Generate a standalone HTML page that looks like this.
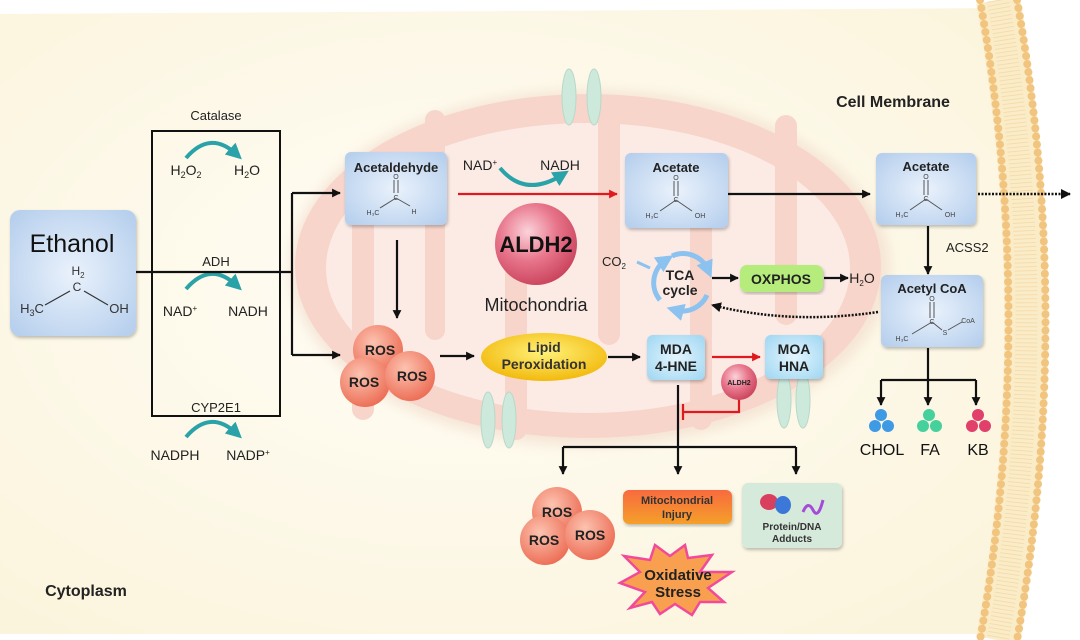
<!DOCTYPE html>
<html><head><meta charset="utf-8"><style>
html,body{margin:0;padding:0;background:#fff;}
svg{display:block;font-family:"Liberation Sans",sans-serif;}
</style></head><body>
<svg width="1080" height="640" viewBox="0 0 1080 640" xmlns="http://www.w3.org/2000/svg">
<defs>
<radialGradient id="bg" cx="0.45" cy="0.45" r="0.7"><stop offset="0" stop-color="#fffdf6"/><stop offset="1" stop-color="#fbf4dc"/></radialGradient>
<radialGradient id="blue" cx="0.5" cy="0.5" r="0.7"><stop offset="0" stop-color="#eaf2fc"/><stop offset="1" stop-color="#b3cdec"/></radialGradient>
<radialGradient id="cyan" cx="0.5" cy="0.5" r="0.7"><stop offset="0" stop-color="#e3f5fd"/><stop offset="1" stop-color="#9fd6f2"/></radialGradient>
<radialGradient id="red" cx="0.4" cy="0.35" r="0.7"><stop offset="0" stop-color="#fbd3da"/><stop offset="0.5" stop-color="#e8768c"/><stop offset="1" stop-color="#c8405a"/></radialGradient>
<radialGradient id="ros" cx="0.4" cy="0.35" r="0.7"><stop offset="0" stop-color="#fcc3b0"/><stop offset="1" stop-color="#ec6a52"/></radialGradient>
<radialGradient id="yel" cx="0.5" cy="0.4" r="0.6"><stop offset="0" stop-color="#fff27a"/><stop offset="1" stop-color="#f2b90c"/></radialGradient>
<linearGradient id="org" x1="0" y1="0" x2="0" y2="1"><stop offset="0" stop-color="#f86a3e"/><stop offset="1" stop-color="#f5a02a"/></linearGradient>
<marker id="ah" viewBox="0 0 10 10" refX="9" refY="5" markerWidth="4" markerHeight="4" orient="auto"><path d="M0,0L10,5L0,10z" fill="#111"/></marker>
<marker id="ahr" viewBox="0 0 10 10" refX="9" refY="5" markerWidth="4" markerHeight="4" orient="auto"><path d="M0,0L10,5L0,10z" fill="#e0191e"/></marker>
<marker id="aht" viewBox="0 0 10 10" refX="5" refY="5" markerWidth="4" markerHeight="4" orient="auto"><path d="M0,0L10,5L0,10z" fill="#2aa3a8"/></marker>
<marker id="ahb" viewBox="0 0 10 10" refX="5" refY="5" markerWidth="3.5" markerHeight="3.5" orient="auto"><path d="M0,0L10,5L0,10z" fill="#8cc2f0"/></marker>
<filter id="sh"><feDropShadow dx="1" dy="2" stdDeviation="1.5" flood-opacity="0.25"/></filter>
<filter id="blur"><feGaussianBlur stdDeviation="6"/></filter>
</defs>
<rect width="1080" height="640" fill="#fff"/>
<path d="M0,14 L1010,8 Q1050,320 1010,634 L0,634 Z" fill="url(#bg)"/>
<!-- membrane -->
<path d="M998,0 Q1055,320 998,640" fill="none" stroke="#fbecc8" stroke-width="44"/>
<path d="M998,0 Q1055,320 998,640" fill="none" stroke="#f4dcae" stroke-width="22" stroke-dasharray="1 3"/>
<path d="M980,0 Q1037,320 980,640" fill="none" stroke="#f1c57f" stroke-width="8" stroke-linecap="round" stroke-dasharray="0.1 8"/>
<path d="M1017,0 Q1074,320 1017,640" fill="none" stroke="#f1c57f" stroke-width="8" stroke-linecap="round" stroke-dasharray="0.1 8"/>
<!-- mitochondria -->
<ellipse cx="590" cy="268" rx="300" ry="178" fill="#f0d8c8" filter="url(#blur)" opacity="0.6"/>
<ellipse cx="588" cy="266" rx="293" ry="172" fill="#f8d5ca"/>
<ellipse cx="588" cy="268" rx="262" ry="145" fill="#fcebe5"/>
<g fill="#f8d5ca">
<rect x="352" y="200" width="22" height="220" rx="11"/>
<rect x="425" y="110" width="20" height="230" rx="10"/>
<rect x="505" y="220" width="22" height="220" rx="11"/>
<rect x="598" y="110" width="22" height="235" rx="11"/>
<rect x="690" y="200" width="22" height="230" rx="11"/>
<rect x="775" y="115" width="22" height="210" rx="11"/>
</g>
<!-- channels -->
<g fill="#cde9dc" stroke="#b8d8c8" stroke-width="1">
<ellipse cx="569" cy="97" rx="7" ry="28"/><ellipse cx="594" cy="97" rx="7" ry="28"/>
<ellipse cx="488" cy="420" rx="7" ry="28"/><ellipse cx="509" cy="420" rx="7" ry="28"/>
<ellipse cx="784" cy="400" rx="7" ry="28"/><ellipse cx="803" cy="400" rx="7" ry="28"/>
</g>
<!-- Ethanol -->
<rect x="10" y="210" width="126" height="126" rx="10" fill="url(#blue)" filter="url(#sh)"/>
<text x="72" y="252" font-size="25" text-anchor="middle" fill="#111">Ethanol</text>
<text x="78" y="275" font-size="12" text-anchor="middle" fill="#333">H<tspan font-size="8" dy="3">2</tspan></text>
<text x="77" y="291" font-size="12" text-anchor="middle" fill="#333">C</text>
<text x="32" y="313" font-size="13" text-anchor="middle" fill="#333">H<tspan font-size="9" dy="3">3</tspan><tspan dy="-3">C</tspan></text>
<text x="119" y="313" font-size="13" text-anchor="middle" fill="#333">OH</text>
<path d="M45,305 L70,291 M84,291 L108,305" stroke="#333" stroke-width="1.2" fill="none"/>
<!-- enzyme box -->
<rect x="152" y="131" width="128" height="285" fill="none" stroke="#111" stroke-width="2"/>
<text x="216" y="120" font-size="13" text-anchor="middle" fill="#222">Catalase</text>
<text x="216" y="266" font-size="13" text-anchor="middle" fill="#222">ADH</text>
<text x="216" y="412" font-size="13" text-anchor="middle" fill="#222">CYP2E1</text>
<g fill="none" stroke="#2aa3a8" stroke-width="4" marker-end="url(#aht)">
<path d="M186,158 Q210,130 236,154"/>
<path d="M186,289 Q210,261 236,285"/>
<path d="M186,437 Q210,409 236,433"/>
</g>
<g font-size="14" fill="#222" text-anchor="middle">
<text x="186" y="175">H<tspan font-size="9" dy="3">2</tspan><tspan dy="-3">O</tspan><tspan font-size="9" dy="3">2</tspan></text>
<text x="247" y="175">H<tspan font-size="9" dy="3">2</tspan><tspan dy="-3">O</tspan></text>
<text x="180" y="316">NAD<tspan font-size="8" dy="-5">+</tspan></text>
<text x="248" y="316">NADH</text>
<text x="175" y="460">NADPH</text>
<text x="248" y="460">NADP<tspan font-size="8" dy="-5">+</tspan></text>
</g>
<g stroke="#111" stroke-width="2.2" fill="none">
<path d="M136,272 L292,272"/>
<path d="M292,193 L292,355"/>
<path d="M292,193 L340,193" marker-end="url(#ah)"/>
<path d="M292,355 L340,355" marker-end="url(#ah)"/>
<path d="M397,240 L397,318" marker-end="url(#ah)"/>
<path d="M728,194 L870,194" marker-end="url(#ah)"/>
<path d="M440,356 L474,356" marker-end="url(#ah)"/>
<path d="M608,357 L640,357" marker-end="url(#ah)"/>
<path d="M928,226 L928,274" marker-end="url(#ah)"/>
<path d="M928,348 L928,380 M881,380 L976,380"/>
<path d="M881,380 L881,405" marker-end="url(#ah)"/>
<path d="M928,380 L928,405" marker-end="url(#ah)"/>
<path d="M976,380 L976,405" marker-end="url(#ah)"/>
<path d="M712,278 L738,278" marker-end="url(#ah)"/>
<path d="M824,278 L848,278" marker-end="url(#ah)"/>
<path d="M678,385 L678,447 M563,447 L796,447"/>
<path d="M563,447 L563,474" marker-end="url(#ah)"/>
<path d="M678,447 L678,474" marker-end="url(#ah)"/>
<path d="M796,447 L796,474" marker-end="url(#ah)"/>
</g>
<path d="M978,194 L1070,194" stroke="#111" stroke-width="2.5" stroke-dasharray="2 1.5" marker-end="url(#ah)"/>
<path d="M878,312 Q790,325 712,305" stroke="#111" stroke-width="2.5" stroke-dasharray="2 1.5" fill="none" marker-end="url(#ah)"/>
<!-- red -->
<path d="M458,194 L617,194" stroke="#e0191e" stroke-width="2.2" marker-end="url(#ahr)"/>
<path d="M712,357 L760,357" stroke="#e0191e" stroke-width="2.2" marker-end="url(#ahr)"/>
<path d="M739,399 L739,412 L683,412 M683,404 L683,420" stroke="#e0191e" stroke-width="2.2" fill="none"/>
<path d="M500,168 Q525,198 562,175" stroke="#2aa3a8" stroke-width="4" fill="none" marker-end="url(#aht)"/>
<text x="480" y="170" font-size="14" text-anchor="middle" fill="#222">NAD<tspan font-size="8" dy="-5">+</tspan></text>
<text x="560" y="170" font-size="14" text-anchor="middle" fill="#222">NADH</text>
<g filter="url(#sh)">
<rect x="345" y="152" width="102" height="73" rx="6" fill="url(#blue)"/>
<rect x="625" y="153" width="103" height="75" rx="6" fill="url(#blue)"/>
<rect x="876" y="153" width="100" height="72" rx="6" fill="url(#blue)"/>
<rect x="881" y="275" width="102" height="72" rx="6" fill="url(#blue)"/>
<rect x="647" y="335" width="58" height="45" rx="6" fill="url(#cyan)"/>
<rect x="765" y="335" width="58" height="44" rx="6" fill="url(#cyan)"/>
</g>
<g font-size="13" font-weight="bold" fill="#222" text-anchor="middle">
<text x="396" y="172">Acetaldehyde</text>
<text x="676" y="172">Acetate</text>
<text x="926" y="171">Acetate</text>
<text x="932" y="293">Acetyl CoA</text>
</g>
<g stroke="#555" stroke-width="1" fill="none">
<path d="M394,180 V193 M398,180 V193 M396,198 L380,208 M396,198 L410,206"/>
<path d="M674,181 V196 M678,181 V196 M676,200 L660,211 M676,200 L692,211"/>
<path d="M924,180 V195 M928,180 V195 M926,199 L910,210 M926,199 L942,210"/>
<path d="M930,302 V318 M934,302 V318 M932,322 L912,334 M932,322 L942,330 M948,330 L962,322"/>
</g>
<g font-size="7" fill="#444" text-anchor="middle">
<text x="396" y="179">O</text><text x="396" y="200">C</text><text x="373" y="215">H₃C</text><text x="414" y="214">H</text>
<text x="676" y="180">O</text><text x="676" y="202">C</text><text x="652" y="218">H₃C</text><text x="700" y="218">OH</text>
<text x="926" y="179">O</text><text x="926" y="201">C</text><text x="902" y="217">H₃C</text><text x="950" y="217">OH</text>
<text x="932" y="301">O</text><text x="932" y="324">C</text><text x="902" y="341">H₃C</text><text x="945" y="335">S</text><text x="968" y="323">CoA</text>
</g>
<circle cx="536" cy="244" r="41" fill="url(#red)"/>
<text x="536" y="252" font-size="22" font-weight="bold" text-anchor="middle" fill="#111">ALDH2</text>
<text x="536" y="311" font-size="18" text-anchor="middle" fill="#222">Mitochondria</text>
<g fill="none" stroke="#8cc2f0" stroke-width="5" marker-end="url(#ahb)">
<path d="M660,300 A27,27 0 0 1 666,260"/>
<path d="M672,256 A27,27 0 0 1 708,270"/>
<path d="M707,295 A27,27 0 0 1 675,310"/>
</g>
<path d="M650,268 L637,262" stroke="#8cc2f0" stroke-width="3"/>
<text x="680" y="280" font-size="14" font-weight="bold" text-anchor="middle" fill="#222">TCA</text>
<text x="680" y="295" font-size="14" font-weight="bold" text-anchor="middle" fill="#222">cycle</text>
<text x="614" y="266" font-size="13" text-anchor="middle" fill="#222">CO<tspan font-size="8" dy="3">2</tspan></text>
<rect x="740" y="265" width="83" height="27" rx="7" fill="#b5ec7c" filter="url(#sh)"/>
<text x="781" y="284" font-size="14" font-weight="bold" text-anchor="middle" fill="#222">OXPHOS</text>
<text x="862" y="283" font-size="14" text-anchor="middle" fill="#222">H<tspan font-size="8" dy="3">2</tspan><tspan dy="-3">O</tspan></text>
<text x="946" y="252" font-size="13" fill="#222">ACSS2</text>
<g font-size="14" font-weight="bold" text-anchor="middle" fill="#222">
<circle cx="378" cy="350" r="25" fill="url(#ros)"/>
<circle cx="365" cy="382" r="25" fill="url(#ros)"/>
<circle cx="410" cy="376" r="25" fill="url(#ros)"/>
<text x="380" y="355">ROS</text><text x="364" y="387">ROS</text><text x="412" y="381">ROS</text>
<circle cx="557" cy="512" r="25" fill="url(#ros)"/>
<circle cx="545" cy="540" r="25" fill="url(#ros)"/>
<circle cx="590" cy="535" r="25" fill="url(#ros)"/>
<text x="557" y="517">ROS</text><text x="544" y="545">ROS</text><text x="590" y="540">ROS</text>
</g>
<ellipse cx="544" cy="357" rx="63" ry="24" fill="url(#yel)"/>
<text x="544" y="352" font-size="14" font-weight="bold" text-anchor="middle" fill="#333">Lipid</text>
<text x="544" y="369" font-size="14" font-weight="bold" text-anchor="middle" fill="#333">Peroxidation</text>
<g font-size="14" font-weight="bold" text-anchor="middle" fill="#222">
<text x="676" y="354">MDA</text><text x="676" y="371">4-HNE</text>
<text x="794" y="354">MOA</text><text x="794" y="371">HNA</text>
</g>
<circle cx="739" cy="382" r="18" fill="url(#red)"/>
<text x="739" y="385" font-size="7" font-weight="bold" text-anchor="middle" fill="#222">ALDH2</text>
<g>
<circle cx="881" cy="415" r="6" fill="#3f9ae6"/><circle cx="875" cy="426" r="6" fill="#3f9ae6"/><circle cx="888" cy="426" r="6" fill="#3f9ae6"/>
<circle cx="929" cy="415" r="6" fill="#45d09c"/><circle cx="923" cy="426" r="6" fill="#45d09c"/><circle cx="936" cy="426" r="6" fill="#45d09c"/>
<circle cx="978" cy="415" r="6" fill="#e0406a"/><circle cx="972" cy="426" r="6" fill="#e0406a"/><circle cx="985" cy="426" r="6" fill="#e0406a"/>
</g>
<g font-size="16" text-anchor="middle" fill="#111">
<text x="882" y="455">CHOL</text><text x="930" y="455">FA</text><text x="978" y="455">KB</text>
</g>
<rect x="623" y="490" width="109" height="34" rx="6" fill="url(#org)" filter="url(#sh)"/>
<text x="677" y="504" font-size="11" font-weight="bold" text-anchor="middle" fill="#333">Mitochondrial</text>
<text x="677" y="518" font-size="11" font-weight="bold" text-anchor="middle" fill="#333">Injury</text>
<rect x="742" y="483" width="100" height="65" rx="6" fill="#d6eadc" filter="url(#sh)"/>
<ellipse cx="769" cy="502" rx="9" ry="8" fill="#d9405e"/><ellipse cx="783" cy="505" rx="8" ry="9" fill="#3c78d8"/>
<path d="M803,512 Q808,500 813,510 T823,500" stroke="#a64ad8" stroke-width="3" fill="none"/>
<text x="792" y="530" font-size="10" font-weight="bold" text-anchor="middle" fill="#333">Protein/DNA</text>
<text x="792" y="542" font-size="10" font-weight="bold" text-anchor="middle" fill="#333">Adducts</text>
<path d="M620,583 L640,572 L624,556 L650,560 L655,545 L670,556 L685,545 L688,558 L712,555 L700,572 L732,572 L708,588 L724,602 L700,602 L692,615 L675,604 L660,614 L652,602 L630,608 L645,592 Z" fill="#f9a050" stroke="#f24a9a" stroke-width="2.5"/>
<text x="678" y="580" font-size="15" font-weight="bold" text-anchor="middle" fill="#222">Oxidative</text>
<text x="678" y="597" font-size="15" font-weight="bold" text-anchor="middle" fill="#222">Stress</text>
<text x="893" y="107" font-size="16" font-weight="bold" text-anchor="middle" fill="#222">Cell Membrane</text>
<text x="86" y="596" font-size="16" font-weight="bold" text-anchor="middle" fill="#222">Cytoplasm</text>
</svg>
</body></html>
